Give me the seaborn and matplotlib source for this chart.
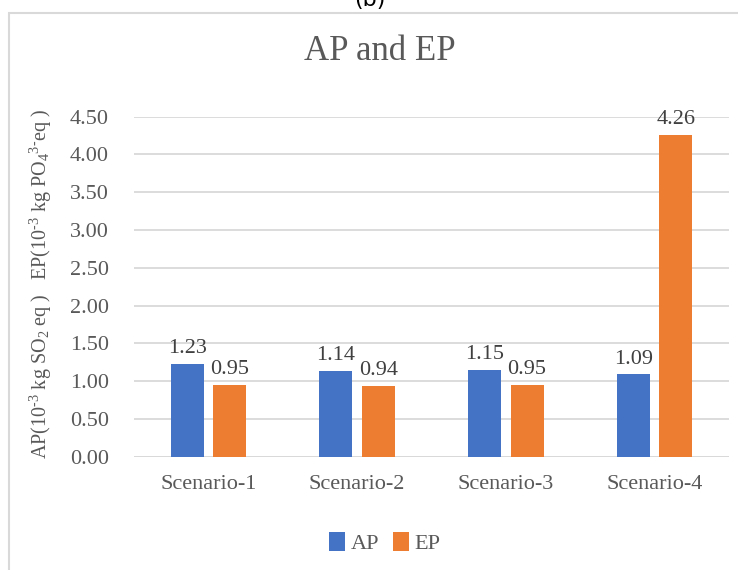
import matplotlib
matplotlib.use("Agg")
import matplotlib.pyplot as plt
import seaborn as sns
import pandas as pd
from matplotlib.patches import Rectangle

# Data
scenarios = ["Scenario-1", "Scenario-2", "Scenario-3", "Scenario-4"]
ap_values = [1.23, 1.14, 1.15, 1.09]
ep_values = [0.95, 0.94, 0.95, 4.26]
series_names = ["AP", "EP"]
y_ticks = [0.0, 0.5, 1.0, 1.5, 2.0, 2.5, 3.0, 3.5, 4.0, 4.5]

df = pd.DataFrame({
    "Scenario": scenarios * 2,
    "Series": [series_names[0]] * len(scenarios) + [series_names[1]] * len(scenarios),
    "Value": ap_values + ep_values,
})

sns.set_theme(style="white")
plt.rcParams["font.family"] = ["Liberation Serif", "DejaVu Serif"]
plt.rcParams["mathtext.fontset"] = "custom"
plt.rcParams["mathtext.rm"] = "Liberation Serif"
plt.rcParams["mathtext.it"] = "Liberation Serif"
plt.rcParams["mathtext.default"] = "rm"

text_color = "#595959"
grid_color = "#D9D9D9"
palette = {"AP": "#4472C4", "EP": "#ED7D31"}

fig = plt.figure(figsize=(7.38, 5.70), dpi=100)
ax = fig.add_axes([134 / 738, 1 - 456.7 / 570, (729 - 134) / 738, (456.7 - 116.7) / 570])

sns.barplot(data=df, x="Scenario", y="Value", hue="Series", palette=palette,
            width=0.57, gap=0.22, ax=ax, saturation=1, legend=True,
            linewidth=0)

ax.set_ylim(0, 4.5)
ax.set_xlim(-0.5, len(scenarios) - 0.5)
ax.set_yticks(y_ticks)
ax.set_yticklabels([f"{t:.2f}" for t in y_ticks])
ax.yaxis.grid(True, color=grid_color, linewidth=1.3)
ax.set_axisbelow(True)
for s in ax.spines.values():
    s.set_visible(False)
ax.axhline(0, color=grid_color, linewidth=1.3, zorder=0.5)
ax.tick_params(axis="y", length=0, pad=18, labelsize=16, labelcolor=text_color)
ax.tick_params(axis="x", length=0, pad=13, labelsize=16, labelcolor=text_color)
ax.set_xlabel("")
ax.set_ylabel(r"AP(10$^{\text{-}3}$ kg SO$_2$ eq )   EP(10$^{\text{-}3}$ kg PO$_4$$^{3\text{-}}$eq )",
              fontsize=14.5, color=text_color)
ax.yaxis.set_label_coords(54 / 738, 1 - 284 / 570, transform=fig.transFigure)

for container in ax.containers:
    ax.bar_label(container, fmt="%.2f", padding=4, fontsize=16, color="#404040")

fig.text(380 / 738, 1 - 52 / 570, "AP and EP", ha="center", va="center",
         fontsize=25, color=text_color)

handles, labels = ax.get_legend_handles_labels()
ax.legend(handles, labels, loc="center", bbox_to_anchor=(385 / 738, 1 - 543 / 570),
          bbox_transform=fig.transFigure, ncol=2, frameon=False, fontsize=16,
          labelcolor=text_color, handlelength=0.7, handleheight=0.95,
          handletextpad=0.25, columnspacing=0.65)

# Chart-area frame
fig.patches.append(Rectangle((8.5 / 738, -0.1), 1.1, 1 - 13 / 570 + 0.1,
                             transform=fig.transFigure, fill=False,
                             edgecolor=grid_color, linewidth=1.5))
fig.text(370 / 738, 1.0, "(b)", ha="center", va="center", fontsize=16,
         color="black", family="DejaVu Sans")

fig.savefig("out.png", dpi=100)
